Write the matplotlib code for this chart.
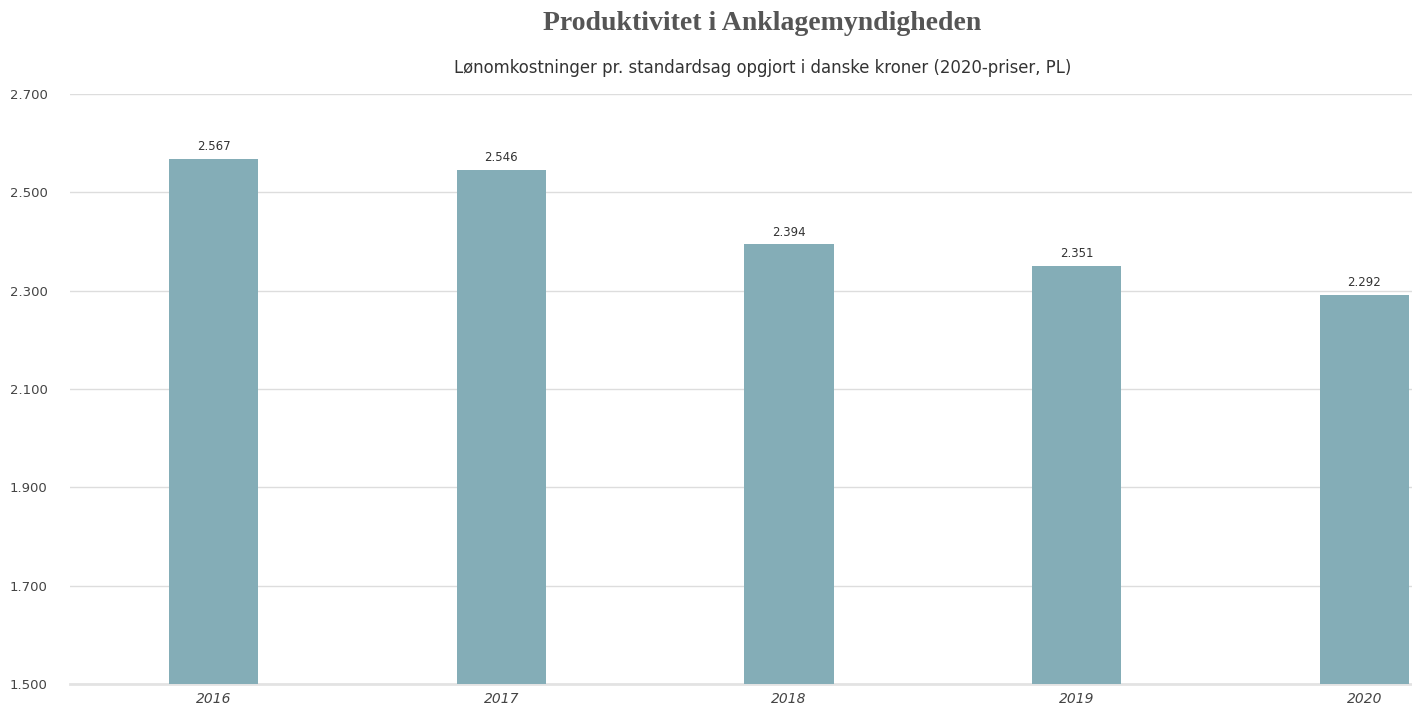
import matplotlib.pyplot as plt
from matplotlib.ticker import FuncFormatter

years = ["2016", "2017", "2018", "2019", "2020"]
cost = [2567, 2546, 2394, 2351, 2292]
yticks = [1500, 1700, 1900, 2100, 2300, 2500, 2700]

bar_color = "#84adb7"
text_color = "#333333"


def dk(v, pos=None):
    return f"{v:,.0f}".replace(",", ".")


fig = plt.figure(figsize=(14.12, 7.11), dpi=100)
# plot area runs past the right edge of the picture, as in the original
ax = fig.add_axes([70 / 1412, 27 / 711, 1438 / 1412, 590 / 711])

x = range(len(years))
ax.bar(x, [c - 1500 for c in cost], bottom=1500, width=0.31, color=bar_color, zorder=3)
for i, c in enumerate(cost):
    ax.text(i, c + 12, dk(c), ha="center", va="bottom", fontsize=8.5, color=text_color)

ax.set_xlim(-0.5, len(years) - 0.5)
ax.set_ylim(1500, 2700)
ax.set_yticks(yticks)
ax.yaxis.set_major_formatter(FuncFormatter(dk))
ax.set_xticks(list(x))
ax.set_xticklabels(years, fontstyle="italic", fontsize=10, color="#444444")
ax.tick_params(axis="y", length=0, pad=16, labelsize=9.5, labelcolor="#444444")
ax.tick_params(axis="x", length=0, pad=6)
ax.grid(axis="y", color="#dddddd", linewidth=1, zorder=0)
for s in ["top", "right", "left"]:
    ax.spines[s].set_visible(False)
ax.spines["bottom"].set_color("#e3e3e3")
ax.spines["bottom"].set_linewidth(2)

fig.text(0.540, 1 - 24 / 711, "Produktivitet i Anklagemyndigheden", ha="center", va="center",
         family="Liberation Serif", fontweight="bold", fontsize=20, color="#555555")
fig.text(0.540, 1 - 68 / 711, "Lønomkostninger pr. standardsag opgjort i danske kroner (2020-priser, PL)",
         ha="center", va="center", fontsize=11.9, color=text_color)

fig.savefig("out.png", dpi=100)
